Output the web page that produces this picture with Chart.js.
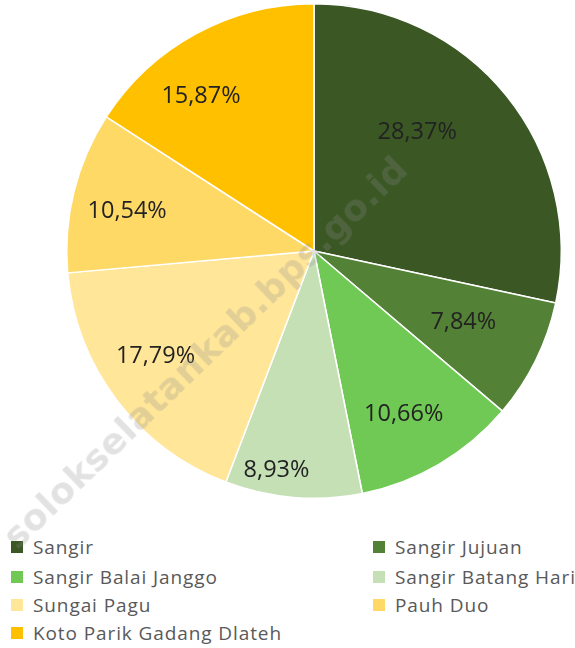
<!DOCTYPE html>
<html>
<head>
<meta charset="utf-8">
<script src="https://cdn.jsdelivr.net/npm/chart.js@4"></script>
<style>
  html, body { margin: 0; padding: 0; background: #fff; }
  body { width: 575px; height: 648px; position: relative; overflow: hidden; font-family: "Open Sans", sans-serif; }
  #wrap { position: absolute; left: 0; top: 0; width: 575px; height: 500px; }
  #legend { position: absolute; left: 0; top: 0; width: 575px; }
  .item { position: absolute; height: 26px; line-height: 26px; font-size: 19px; letter-spacing: 0.9px; color: #595959; white-space: nowrap; }
  .sw { position: absolute; left: 0; top: 7px; width: 12px; height: 12px; }
  .txt { position: absolute; left: 22px; top: 0px; }
  #wm { position: absolute; left: 205px; top: 352px; transform: translate(-50%, -50%) rotate(-44deg);
        font-family: "DejaVu Sans", sans-serif; font-weight: bold; font-size: 36px; color: rgba(140,140,140,0.25);
        white-space: nowrap; pointer-events: none; letter-spacing: 0.5px; }
</style>
</head>
<body>
<div id="wrap"><canvas id="c"></canvas></div>
<div id="legend"></div>
<div id="wm">solokselatankab.bps.go.id</div>
<script>
// ---- data ----
const categories = ["Sangir", "Sangir Jujuan", "Sangir Balai Janggo", "Sangir Batang Hari", "Sungai Pagu", "Pauh Duo", "Koto Parik Gadang Dlateh"];
const shares = [28.37, 7.84, 10.66, 8.93, 17.79, 10.54, 15.87];
const colors = ["#3A5724", "#538135", "#70C954", "#C5E0B4", "#FFE699", "#FFD966", "#FFC000"];

// label placement style (angle offset in degrees, radius fraction) per slice
const labelPlace = [[-10.6, 0.643], [-1.5, 0.665], [1.4, 0.747], [5, 0.89], [4, 0.765], [-1.4, 0.774], [-7.3, 0.78]];

const fmt = v => v.toFixed(2).replace('.', ',') + '%';

const labelPlugin = {
  id: 'sliceLabels',
  afterDatasetsDraw(chart) {
    const ctx = chart.ctx;
    const meta = chart.getDatasetMeta(0);
    ctx.save();
    ctx.font = '23.5px "Open Sans", sans-serif';
    ctx.fillStyle = '#222222';
    ctx.textAlign = 'center';
    ctx.textBaseline = 'middle';
    meta.data.forEach((arc, i) => {
      const p = arc.getProps(['x', 'y', 'startAngle', 'endAngle', 'outerRadius'], true);
      const mid = (p.startAngle + p.endAngle) / 2 + labelPlace[i][0] * Math.PI / 180;
      const r = p.outerRadius * labelPlace[i][1];
      ctx.fillText(fmt(shares[i]), p.x + Math.cos(mid) * r, p.y + Math.sin(mid) * r + 2);
    });
    ctx.restore();
  }
};

new Chart(document.getElementById('c'), {
  type: 'pie',
  data: {
    labels: categories,
    datasets: [{ data: shares, backgroundColor: colors, borderColor: '#ffffff', borderWidth: 1.5 }]
  },
  options: {
    responsive: true,
    maintainAspectRatio: false,
    animation: false,
    layout: { padding: { left: 66, right: 13, top: 3, bottom: 1 } },
    plugins: { legend: { display: false }, tooltip: { enabled: false } }
  },
  plugins: [labelPlugin]
});

// HTML legend built from arrays
const leg = document.getElementById('legend');
const colX = [11, 373];
const rowY = [534, 564, 592, 620];
categories.forEach((name, i) => {
  const d = document.createElement('div');
  d.className = 'item';
  d.style.left = colX[i % 2] + 'px';
  d.style.top = rowY[Math.floor(i / 2)] + 'px';
  d.innerHTML = '<span class="sw" style="background:' + colors[i] + '"></span><span class="txt"></span>';
  d.querySelector('.txt').textContent = name;
  leg.appendChild(d);
});
</script>
</body>
</html>
